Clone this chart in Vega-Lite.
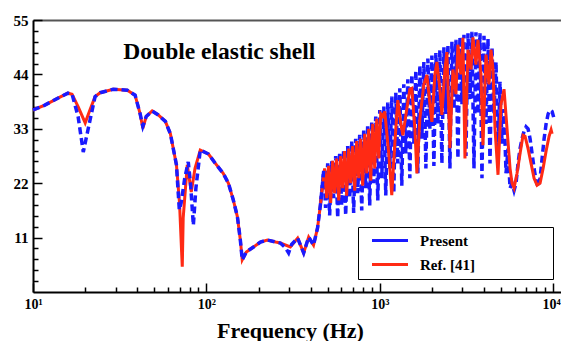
{
  "$schema": "https://vega.github.io/schema/vega-lite/v6.json",
  "width": 528,
  "height": 272,
  "autosize": {"type": "none"},
  "padding": {"left": 33, "top": 20, "right": 0, "bottom": 49},
  "background": "white",
  "config": {"view": {"stroke": null}, "font": "Liberation Serif"},
  "datasets": {
    "P": [
      {"f":10,"v":36.8},{"f":11.7,"v":37.8},{"f":14.3,"v":39.4},{"f":15.9,"v":40.2},{"f":16.8,"v":40.0},{"f":18.2,"v":35.5},{"f":19.5,"v":28.3},{"f":21.4,"v":35},{"f":22.8,"v":39.5},{"f":24.4,"v":40.3},{"f":29,"v":41.0},{"f":35,"v":40.8},{"f":38.8,"v":39.8},{"f":41.5,"v":36},{"f":43,"v":33.5},{"f":45,"v":35.5},{"f":48.7,"v":36.6},{"f":52.8,"v":35.8},{"f":58,"v":34.5},{"f":62,"v":32},{"f":67.2,"v":25.7},{"f":69.8,"v":16.6},{"f":71.5,"v":18},{"f":75,"v":23},{"f":78.6,"v":26.3},{"f":81,"v":22},{"f":84.1,"v":13.5},{"f":87,"v":21},{"f":92.2,"v":28.7},{"f":102.8,"v":27.9},{"f":112.7,"v":26},{"f":125,"v":24},{"f":134,"v":22},{"f":143,"v":18.6},{"f":151,"v":15.2},{"f":157,"v":10.5},{"f":161,"v":6.5},{"f":170,"v":8.1},{"f":187,"v":9.1},{"f":205,"v":10.1},{"f":225,"v":10.5},{"f":251,"v":10.1},{"f":267,"v":9.9},{"f":285,"v":9},{"f":298,"v":7.9},{"f":310,"v":9.6},{"f":336,"v":10.9},{"f":364,"v":7.9},{"f":389,"v":11.1},{"f":415,"v":9.5},{"f":438,"v":13},{"f":456,"v":18},
      {"f":475,"v":24.5},{"f":487,"v":17},{"f":501,"v":26},{"f":514,"v":15.5},{"f":528,"v":26.5},{"f":542,"v":19},{"f":557,"v":27.5},{"f":572,"v":15},{"f":587,"v":28.3},{"f":603,"v":17.5},{"f":619,"v":28.8},{"f":636,"v":15.5},{"f":653,"v":29.5},{"f":671,"v":19},{"f":689,"v":30.5},{"f":707,"v":16},{"f":726,"v":31},{"f":746,"v":20},{"f":766,"v":31.8},{"f":787,"v":16.5},{"f":808,"v":32.8},{"f":830,"v":21},{"f":852,"v":33.8},{"f":875,"v":17.5},{"f":899,"v":34.5},{"f":923,"v":22},{"f":948,"v":35.5},{"f":974,"v":18.5},{"f":1000,"v":36.8},{"f":1027,"v":23},{"f":1055,"v":37.5},{"f":1083,"v":19.5},{"f":1112,"v":38.3},{"f":1142,"v":25},{"f":1173,"v":39.5},{"f":1205,"v":20},{"f":1237,"v":40.3},{"f":1271,"v":26},{"f":1305,"v":41.2},{"f":1340,"v":21.5},{"f":1376,"v":42},{"f":1413,"v":28},{"f":1452,"v":43},{"f":1491,"v":23},{"f":1531,"v":44},{"f":1572,"v":30},{"f":1615,"v":44.8},{"f":1658,"v":24},{"f":1703,"v":45.8},{"f":1749,"v":31},{"f":1796,"v":46.5},{"f":1845,"v":25},{"f":1894,"v":47.2},{"f":1946,"v":33},{"f":1998,"v":47.8},{"f":2052,"v":25.5},{"f":2107,"v":48.3},{"f":2164,"v":34},{"f":2222,"v":48.9},{"f":2282,"v":26},{"f":2344,"v":49.5},{"f":2407,"v":36},{"f":2472,"v":50},{"f":2539,"v":25},{"f":2607,"v":50.6},{"f":2678,"v":37},{"f":2750,"v":51},{"f":2824,"v":27},{"f":2900,"v":51.6},{"f":2978,"v":38},{"f":3059,"v":52},{"f":3141,"v":27.5},{"f":3226,"v":52.3},{"f":3313,"v":39},{"f":3402,"v":52.6},{"f":3494,"v":25},{"f":3588,"v":52.5},{"f":3685,"v":36},{"f":3784,"v":52.3},{"f":3886,"v":23},{"f":3991,"v":51.8},{"f":4099,"v":34},{"f":4209,"v":51.2},{"f":4323,"v":26},{"f":4440,"v":49.5},{"f":4559,"v":36},{"f":4682,"v":46.5},{"f":4809,"v":28},{"f":4938,"v":42.5},{"f":5072,"v":30},{"f":5208,"v":37},{"f":5349,"v":24},{"f":5493,"v":29},{"f":5641,"v":21},{"f":5793,"v":22},{"f":5949,"v":20.5},{"f":6110,"v":22},{"f":6274,"v":26},{"f":6444,"v":29},{"f":6617,"v":31},{"f":6796,"v":32.5},{"f":6979,"v":33.4},{"f":7167,"v":33},{"f":7361,"v":31},{"f":7559,"v":28},{"f":7763,"v":25},{"f":7973,"v":22.5},{"f":8188,"v":21.2},{"f":8409,"v":23},{"f":8636,"v":27},{"f":8869,"v":31},{"f":9108,"v":34},{"f":9354,"v":36},{"f":9606,"v":36.8},{"f":9865,"v":36.5},{"f":10131,"v":35}
    ],
    "R": [
      {"f":10,"v":36.8},{"f":11.7,"v":37.8},{"f":14.3,"v":39.4},{"f":15.9,"v":40.2},{"f":16.8,"v":40.0},{"f":18.2,"v":37.5},{"f":20.0,"v":34.2},{"f":21.4,"v":37},{"f":22.8,"v":39.5},{"f":24.4,"v":40.3},{"f":29,"v":41},{"f":35,"v":40.8},{"f":38.8,"v":39.8},{"f":41.5,"v":36},{"f":43,"v":33.1},{"f":45,"v":35.5},{"f":48.7,"v":36.6},{"f":52.8,"v":35.8},{"f":58,"v":34.5},{"f":62,"v":32},{"f":67.2,"v":25.7},{"f":70,"v":18},{"f":72,"v":8},{"f":72.6,"v":5.1},{"f":73.5,"v":15},{"f":77.6,"v":25.7},{"f":81.8,"v":20.2},{"f":86,"v":25},{"f":92.2,"v":28.7},{"f":102.8,"v":27.9},{"f":112.7,"v":26},{"f":125,"v":24},{"f":134,"v":22},{"f":143,"v":18.6},{"f":151,"v":15.2},{"f":157,"v":10.5},{"f":161,"v":6.5},{"f":170,"v":8.1},{"f":187,"v":9.1},{"f":205,"v":10.1},{"f":225,"v":10.5},{"f":251,"v":10.1},{"f":267,"v":9.9},{"f":305,"v":9.1},{"f":336,"v":10.9},{"f":364,"v":7.9},{"f":389,"v":11.1},{"f":415,"v":9.5},{"f":438,"v":13},{"f":456,"v":18},{"f":474,"v":23.3},
      {"f":481,"v":25},{"f":494,"v":19},{"f":507,"v":25.5},{"f":521,"v":18},{"f":535,"v":26.5},{"f":549,"v":20},{"f":564,"v":27},{"f":580,"v":18.5},{"f":595,"v":27.5},{"f":611,"v":21},{"f":627,"v":28.5},{"f":644,"v":19.5},{"f":662,"v":29},{"f":680,"v":22},{"f":698,"v":29.5},{"f":717,"v":20.5},{"f":736,"v":30.5},{"f":756,"v":23},{"f":776,"v":31},{"f":797,"v":21.5},{"f":819,"v":32},{"f":841,"v":24},{"f":863,"v":33},{"f":887,"v":22.5},{"f":911,"v":34},{"f":935,"v":25},{"f":961,"v":35},{"f":987,"v":27},{"f":1013,"v":36},{"f":1041,"v":35.5},{"f":1069,"v":36.5},{"f":1127,"v":28},{"f":1173,"v":19.6},{"f":1221,"v":30},{"f":1271,"v":38.8},{"f":1323,"v":34},{"f":1359,"v":31.7},{"f":1432,"v":37},{"f":1491,"v":41},{"f":1531,"v":41.2},{"f":1594,"v":33},{"f":1637,"v":24},{"f":1703,"v":35},{"f":1796,"v":42},{"f":1870,"v":43.9},{"f":1946,"v":38},{"f":1998,"v":34.4},{"f":2080,"v":44},{"f":2136,"v":46.5},{"f":2222,"v":41},{"f":2282,"v":35.8},{"f":2375,"v":45},{"f":2439,"v":48.5},{"f":2539,"v":29.1},{"f":2642,"v":45},{"f":2750,"v":40},{"f":2824,"v":50},{"f":2939,"v":44},{"f":3018,"v":51.4},{"f":3100,"v":27},{"f":3226,"v":49},{"f":3357,"v":45},{"f":3448,"v":51.5},{"f":3588,"v":46},{"f":3685,"v":51},{"f":3835,"v":44},{"f":3938,"v":29.7},{"f":4099,"v":48},{"f":4266,"v":42},{"f":4381,"v":49},{"f":4499,"v":45},{"f":4620,"v":33},{"f":4809,"v":23.7},{"f":5005,"v":38},{"f":5208,"v":41},{"f":5421,"v":33},{"f":5641,"v":25},{"f":5793,"v":22},{"f":5949,"v":21},{"f":6192,"v":24},{"f":6444,"v":28},{"f":6706,"v":31.7},{"f":6887,"v":31.5},{"f":7167,"v":29},{"f":7459,"v":26},{"f":7763,"v":23},{"f":8079,"v":21.6},{"f":8409,"v":22},{"f":8751,"v":25},{"f":9108,"v":28.5},{"f":9479,"v":31.5},{"f":9734,"v":32.8},{"f":9865,"v":32}
    ]
  },
  "encoding": {
    "x": {
      "field": "f", "type": "quantitative",
      "scale": {"type": "log", "domain": [10, 11100], "nice": false},
      "axis": {
        "title": "Frequency (Hz)",
        "titleFont": "Liberation Serif", "titleFontWeight": "bold", "titleFontSize": 22, "titleColor": "black", "titlePadding": 5, "titleX": 257,
        "values": [10,20,30,40,50,60,70,80,90,100,200,300,400,500,600,700,800,900,1000,2000,3000,4000,5000,6000,7000,8000,9000,10000],
        "labelExpr": "datum.value == 10 ? '10¹' : datum.value == 100 ? '10²' : datum.value == 1000 ? '10³' : datum.value == 10000 ? '10⁴' : ''",
        "labelFont": "Liberation Serif", "labelFontWeight": "bold", "labelFontSize": 14, "labelColor": "black",
        "labelFlush": false, "labelOverlap": false, "labelPadding": 14,
        "labelAlign": {"condition": {"test": "datum.value === 10000", "value": "right"}, "value": "center"},
        "labelOffset": {"condition": {"test": "datum.value === 10000", "value": 7}, "value": 0},
        "grid": false,
        "domainColor": "black", "domainWidth": 2,
        "tickColor": "black", "tickWidth": 1.5,
        "tickSize": {"condition": {"test": "abs(log(datum.value)/LN10 - round(log(datum.value)/LN10)) < 0.000001", "value": -9}, "value": -5}
      }
    },
    "y": {
      "field": "v", "type": "quantitative",
      "scale": {"domain": [0, 55], "nice": false},
      "axis": {
        "title": null,
        "values": [2.2,4.4,6.6,8.8,11,13.2,15.4,17.6,19.8,22,24.2,26.4,28.6,30.8,33,35.2,37.4,39.6,41.8,44,46.2,48.4,50.6,52.8,55],
        "labelExpr": "datum.value % 11 === 0 ? datum.label : ''",
        "labelFont": "Liberation Serif", "labelFontWeight": "bold", "labelFontSize": 15, "labelColor": "black",
        "labelFlush": false, "labelOverlap": false, "labelPadding": 14,
        "grid": true, "gridColor": "#555555", "gridWidth": 2,
        "gridOpacity": {"condition": {"test": "datum.value === 55", "value": 1}, "value": 0},
        "domainColor": "black", "domainWidth": 2,
        "tickColor": "black", "tickWidth": 1.5,
        "tickSize": {"condition": {"test": "datum.value % 11 === 0", "value": -9}, "value": -5}
      }
    }
  },
  "layer": [
    {
      "data": {"name": "P"},
      "transform": [{"filter": "datum.f >= 456"}],
      "mark": {"type": "line", "strokeWidth": 3.5, "strokeDash": [7, 4], "strokeCap": "butt"},
      "encoding": {
        "color": {
          "datum": "Present",
          "scale": {"domain": ["Present", "Ref. [41]"], "range": ["#1a1aff", "#ff2a14"]},
          "legend": {
            "orient": "none", "legendX": 325, "legendY": 207, "title": null,
            "padding": 6, "strokeColor": "black", "fillColor": "white",
            "symbolType": "M-3,0H3", "symbolSize": 144, "symbolStrokeWidth": 3, "symbolDash": [], "symbolOffset": 18.5,
            "labelFont": "Liberation Serif", "labelFontWeight": "bold", "labelFontSize": 15, "labelColor": "black",
            "labelOffset": 22.5, "rowPadding": 8, "labelLimit": 300,
            "labelExpr": "datum.label + '\u00a0\u00a0\u00a0\u00a0\u00a0\u00a0\u00a0\u00a0\u00a0\u00a0\u00a0\u00a0\u00a0\u00a0\u00a0\u00a0\u00a0\u00a0\u00a0\u200b'"
          }
        }
      }
    },
    {
      "data": {"name": "R"},
      "mark": {"type": "line", "strokeWidth": 3},
      "encoding": {"color": {"datum": "Ref. [41]"}}
    },
    {
      "data": {"name": "P"},
      "transform": [{"filter": "datum.f <= 475"}],
      "mark": {"type": "line", "strokeWidth": 3.5, "strokeDash": [7, 4], "strokeCap": "butt"},
      "encoding": {"color": {"datum": "Present"}}
    },
    {
      "data": {"values": [{"f": 33.2, "v": 47.1, "t": "Double elastic shell"}]},
      "mark": {"type": "text", "align": "left", "baseline": "alphabetic", "font": "Liberation Serif", "fontWeight": "bold", "fontSize": 23.5, "color": "black"},
      "encoding": {"text": {"field": "t"}}
    }
  ]
}
